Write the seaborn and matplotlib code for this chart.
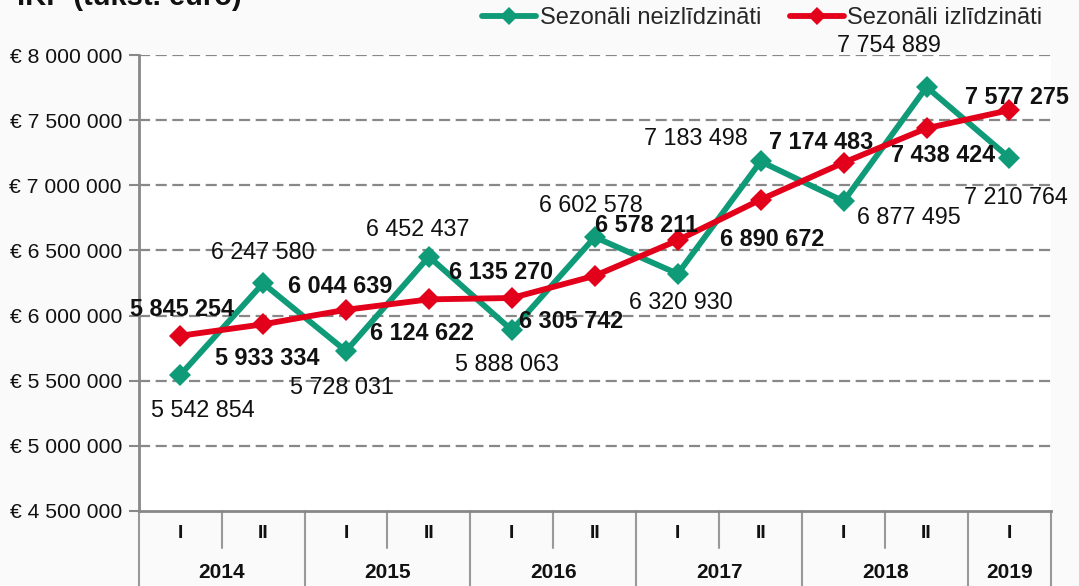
import pandas as pd
import seaborn as sns
import matplotlib.pyplot as plt
from matplotlib.lines import Line2D
from matplotlib.transforms import blended_transform_factory

# Dati
years = ["2014", "2015", "2016", "2017", "2018", "2019"]
halves = ["I", "II", "I", "II", "I", "II", "I", "II", "I", "II", "I"]
neizl = [5542854, 6247580, 5728031, 6452437, 5888063, 6602578,
         6320930, 7183498, 6877495, 7754889, 7210764]
izl = [5845254, 5933334, 6044639, 6124622, 6135270, 6305742,
       6578211, 6890672, 7174483, 7438424, 7577275]
series_names = ["Sezonāli neizlīdzināti", "Sezonāli izlīdzināti"]

# label offsets (pixels) - like excel placed them
off_neizl = [(23, -35), (0, 31), (-4, -36), (-11, 27), (-5, -34), (-4, 32),
             (3, -29), (-65, 23), (65, -16), (-38, 42), (6, -40)]
off_izl = [(2, 26), (4, -34), (-6, 23), (-7, -34), (-11, 25), (-24, -46),
           (-31, 15), (11, -40), (-22, 20), (17, -27), (7, 13)]

green = "#0f9a78"
red = "#e2001a"

df = pd.DataFrame({
    "pos": list(range(len(neizl))) * 2,
    "value": neizl + izl,
    "series": [series_names[0]] * len(neizl) + [series_names[1]] * len(izl),
})

sns.set_theme(style="white")
plt.rcParams["font.family"] = ["Liberation Sans", "DejaVu Sans"]

fig = plt.figure(figsize=(10.79, 5.86), dpi=100, facecolor="#fafafa")
ax = fig.add_axes([0.1285, 0.128, 0.8455, 0.778])
ax.set_facecolor("white")

sns.lineplot(data=df, x="pos", y="value", hue="series",
             palette=[green, red], marker="D", markersize=11,
             markeredgewidth=0, linewidth=4.2, sort=False, legend=False, ax=ax)

# datu etiketes
for i, v in enumerate(neizl):
    ax.annotate(f"{v:,}".replace(",", " "), (i, v), xytext=off_neizl[i],
                textcoords="offset pixels", ha="center", va="center",
                fontsize=16.8, color="#111111")
for i, v in enumerate(izl):
    ax.annotate(f"{v:,}".replace(",", " "), (i, v), xytext=off_izl[i],
                textcoords="offset pixels", ha="center", va="center",
                fontsize=16.8, fontweight="bold", color="#111111")

ax.set_xlim(-0.5, len(neizl) - 0.5)
ax.set_ylim(4500000, 8000000)
ax.set_yticks(range(4500000, 8000001, 500000))
ax.set_yticklabels(["€ " + f"{t:,}".replace(",", " ") for t in range(4500000, 8000001, 500000)],
                   fontsize=15.2, color="#111111")
ax.tick_params(axis="y", left=True, length=7, width=1.5, color="#888888", pad=5)
ax.set_xticks([])
ax.set_xlabel("")
ax.set_ylabel("")
for y in range(5000000, 8000001, 500000):
    ax.axhline(y, color="#888888", lw=1.6, ls=(0, (5, 2.5)), zorder=0)

for s in ["top", "right"]:
    ax.spines[s].set_visible(False)
for s in ["left", "bottom"]:
    ax.spines[s].set_color("#888888")
    ax.spines[s].set_linewidth(2)

# kategoriju tabula zem ass
trans = blended_transform_factory(ax.transData, ax.transAxes)
row1 = -37 / 456
row2 = -75 / 456
for i in range(len(halves) + 1):
    x = i - 0.5
    is_year_edge = (i % 2 == 0) or i == len(halves)
    bottom = row2 - 0.05 if is_year_edge else row1
    ax.add_line(Line2D([x, x], [0, bottom], transform=trans, color="#999999",
                       lw=1.5, clip_on=False))
for i, h in enumerate(halves):
    ax.text(i, -23 / 456, h, transform=trans, ha="center", va="center",
            fontsize=14, fontweight="bold", color="#111111")
for j, yr in enumerate(years):
    start = 2 * j
    end = min(2 * j + 1, len(halves) - 1)
    ax.text((start + end) / 2, -62 / 456, yr, transform=trans, ha="center",
            va="center", fontsize=15, fontweight="bold", color="#111111")

# virsraksts (nogriezts augšā)
fig.text(0.016, 1 - 5 / 586, "IKP (tūkst. euro)", fontsize=21,
         fontweight="bold", va="baseline", ha="left", color="#111111")

# legenda
handles = [Line2D([], [], color=green, lw=4.2, marker="D", markersize=9, markeredgewidth=0),
           Line2D([], [], color=red, lw=4.2, marker="D", markersize=9, markeredgewidth=0)]
fig.legend(handles, series_names, loc="center right", bbox_to_anchor=(0.975, 1 - 18 / 586),
           ncol=2, frameon=False, fontsize=17, handlelength=2.3, handletextpad=0.15,
           columnspacing=1.2, borderaxespad=0)

fig.savefig("out.png", dpi=100, facecolor=fig.get_facecolor())
